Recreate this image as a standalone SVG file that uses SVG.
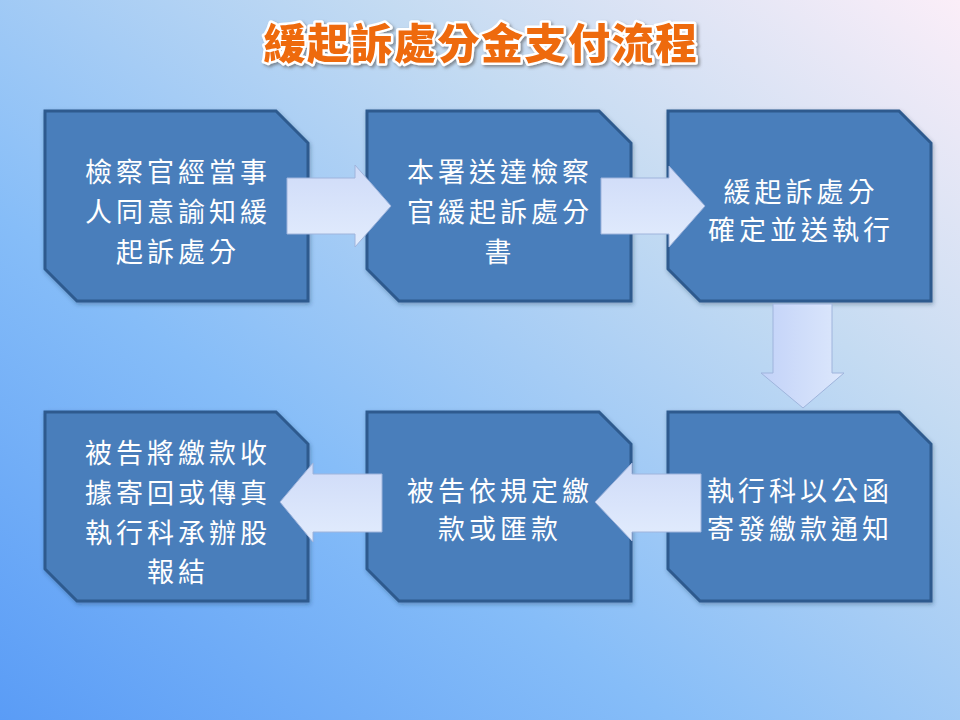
<svg xmlns="http://www.w3.org/2000/svg" width="960" height="720" viewBox="0 0 960 720">
<defs>
<linearGradient id="bg" x1="0" y1="1" x2="1" y2="0">
<stop offset="0" stop-color="#5a9cf6"/>
<stop offset="0.35" stop-color="#86bdf8"/>
<stop offset="0.7" stop-color="#c4dbf2"/>
<stop offset="1" stop-color="#fbeef8"/>
</linearGradient>
<linearGradient id="ah" x1="0" y1="0" x2="0" y2="1">
<stop offset="0" stop-color="#cfdbf8"/>
<stop offset="1" stop-color="#e2ecfd"/>
</linearGradient>
<linearGradient id="av" x1="0" y1="0" x2="1" y2="0">
<stop offset="0" stop-color="#c2d2f8"/>
<stop offset="1" stop-color="#dde8fc"/>
</linearGradient>
<filter id="sh" x="-10%" y="-10%" width="120%" height="120%">
<feDropShadow dx="1" dy="2" stdDeviation="2" flood-color="#1a3050" flood-opacity="0.35"/>
</filter>
<filter id="tsh" x="-10%" y="-30%" width="120%" height="160%">
<feDropShadow dx="2" dy="2" stdDeviation="1.5" flood-color="#555" flood-opacity="0.6"/>
</filter>
</defs>
<style>
.node{fill:#4a7ebb;stroke:#2d5a8e;stroke-width:3;filter:url(#sh)}
.t{font-family:"Noto Sans CJK TC","Noto Sans CJK SC",sans-serif;font-size:27px;fill:#ffffff;text-anchor:middle;letter-spacing:4px}
.ar{stroke:#9fb4dc;stroke-width:1}
.title{font-family:"Noto Sans CJK TC","Noto Sans CJK SC",sans-serif;font-size:42px;font-weight:900;fill:#ee6a10;stroke:#ffffff;stroke-width:5px;paint-order:stroke;stroke-linejoin:round;text-anchor:middle;letter-spacing:1.5px}
</style>
<rect x="0" y="0" width="960" height="720" fill="url(#bg)"/>
<text class="title" x="481" y="59" filter="url(#tsh)">緩起訴處分金支付流程</text>

<g id="n1">
<path class="node" d="M45,111 L276,111 L308,143 L308,301 L77,301 L45,269 Z"/>
<text class="t" x="178" y="182">檢察官經當事</text>
<text class="t" x="178" y="222">人同意諭知緩</text>
<text class="t" x="178" y="262">起訴處分</text>
</g>
<g id="n2">
<path class="node" d="M367,111 L599,111 L631,143 L631,301 L399,301 L367,269 Z"/>
<text class="t" x="500" y="182">本署送達檢察</text>
<text class="t" x="500" y="222">官緩起訴處分</text>
<text class="t" x="500" y="262">書</text>
</g>
<g id="n3">
<path class="node" d="M668,111 L899,111 L931,143 L931,301 L700,301 L668,269 Z"/>
<text class="t" x="801" y="202">緩起訴處分</text>
<text class="t" x="801" y="240">確定並送執行</text>
</g>
<g id="n4">
<path class="node" d="M668,412 L899,412 L931,444 L931,601 L700,601 L668,569 Z"/>
<text class="t" x="800" y="501">執行科以公函</text>
<text class="t" x="800" y="539">寄發繳款通知</text>
</g>
<g id="n5">
<path class="node" d="M367,412 L599,412 L631,444 L631,601 L399,601 L367,569 Z"/>
<text class="t" x="500" y="501">被告依規定繳</text>
<text class="t" x="500" y="539">款或匯款</text>
</g>
<g id="n6">
<path class="node" d="M45,412 L276,412 L308,444 L308,601 L77,601 L45,569 Z"/>
<text class="t" x="178" y="463">被告將繳款收</text>
<text class="t" x="178" y="503">據寄回或傳真</text>
<text class="t" x="178" y="543">執行科承辦股</text>
<text class="t" x="178" y="582">報結</text>
</g>

<g id="connectors">
<path class="ar" fill="url(#ah)" d="M287,178 L355,178 L355,165 L391,206 L355,247 L355,234 L287,234 Z"/>
<path class="ar" fill="url(#ah)" d="M601,178 L669,178 L669,166 L705,206 L669,247 L669,234 L601,234 Z"/>
<path class="ar" fill="url(#av)" d="M773,304 L832,304 L832,373 L844,373 L803,408 L761,373 L773,373 Z"/>
<path class="ar" fill="url(#ah)" d="M701,474 L632,474 L632,463 L595,502 L632,541 L632,532 L701,532 Z"/>
<path class="ar" fill="url(#ah)" d="M382,474 L313,474 L313,463 L280,502 L313,542 L313,532 L382,532 Z"/>
</g>
</svg>
